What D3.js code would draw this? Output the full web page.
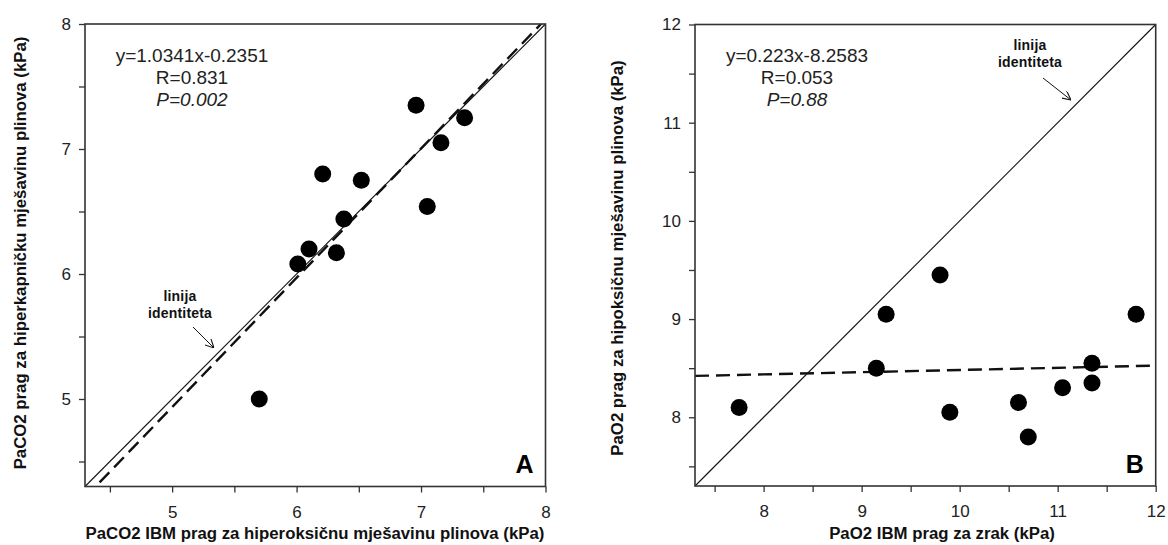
<!DOCTYPE html>
<html>
<head>
<meta charset="utf-8">
<script src="https://cdn.jsdelivr.net/npm/d3@7"></script>
<style>
  html, body { margin: 0; padding: 0; background: #fff; }
  svg { display: block; font-family: "Liberation Sans", Arial, sans-serif; }
</style>
</head>
<body>
<svg id="chart" width="1168" height="545"></svg>
<script>
// ---------- data ----------
// Panel A
const aX = [6.96, 7.35, 7.16, 7.05, 6.21, 6.52, 6.38, 6.10, 6.32, 6.01, 5.70];
const aY = [7.35, 7.25, 7.05, 6.54, 6.80, 6.75, 6.44, 6.20, 6.17, 6.08, 5.00];
const aDomain = [4.3, 8];
const aMajorTicks = [5, 6, 7, 8];
const aMinorTicks = [4.5, 5.5, 6.5, 7.5];
const aReg = [1.0341, -0.2351];           // slope, intercept
const aText = ["y=1.0341x-0.2351", "R=0.831", "P=0.002"];
const aXTitle = "PaCO2 IBM prag za hiperoksičnu mješavinu plinova (kPa)";
const aYTitle = "PaCO2 prag za hiperkapničku mješavinu plinova (kPa)";

// Panel B
const bX = [7.75, 9.15, 9.25, 9.80, 9.90, 10.60, 10.70, 11.05, 11.35, 11.35, 11.80];
const bY = [8.10, 8.50, 9.05, 9.45, 8.05, 8.15, 7.80, 8.30, 8.55, 8.35, 9.05];
const bDomain = [7.3, 12];
const bMajorTicks = [8, 9, 10, 11, 12];
const bMinorTicks = [7.5, 8.5, 9.5, 10.5, 11.5];
const bReg = [0.0223, 8.2583];            // drawn line, slope, intercept
const bText = ["y=0.223x-8.2583", "R=0.053", "P=0.88"];
const bXTitle = "PaO2 IBM prag za zrak (kPa)";
const bYTitle = "PaO2 prag za hipoksičnu mješavinu plinova (kPa)";

const annot = ["linija", "identiteta"];

// ---------- drawing ----------
const svg = d3.select("#chart");

const defs = svg.append("defs");
defs.append("marker")
  .attr("id", "arrow")
  .attr("viewBox", "0 0 10 10")
  .attr("refX", 10).attr("refY", 5)
  .attr("markerWidth", 9).attr("markerHeight", 9)
  .attr("markerUnits", "userSpaceOnUse")
  .attr("orient", "auto")
  .append("path")
  .attr("d", "M0,0 L10,5 L0,10")
  .attr("fill", "none")
  .attr("stroke", "#111")
  .attr("stroke-width", 1.2);

function panel(cfg) {
  const { id, left, right, top, bottom, domain, xs, ys, major, minor, reg, texts,
          xTitle, yTitle, letter, eqX, annotPos, arrow, xTitleX, yTitleX, yTitleY } = cfg;
  const x = d3.scaleLinear().domain(domain).range([left, right]);
  const y = d3.scaleLinear().domain(domain).range([bottom, top]);
  const g = svg.append("g");

  defs.append("clipPath").attr("id", "clip" + id)
    .append("rect").attr("x", left).attr("y", top)
    .attr("width", right - left).attr("height", bottom - top);

  const allTicks = major.concat(minor).sort((p, q) => p - q);
  const fmt = d => (major.includes(d) ? d3.format("d")(d) : "");

  const xAxis = g.append("g")
    .attr("transform", `translate(0,${bottom})`)
    .call(d3.axisBottom(x).tickValues(allTicks).tickFormat(fmt).tickSize(6).tickPadding(13));
  const yAxis = g.append("g")
    .attr("transform", `translate(${left},0)`)
    .call(d3.axisLeft(y).tickValues(allTicks).tickFormat(fmt).tickSize(6).tickPadding(8));
  [xAxis, yAxis].forEach(ax => {
    ax.select(".domain").remove();
    ax.selectAll("line").attr("stroke", "#333").attr("stroke-width", 1.3);
    ax.selectAll("text").attr("font-size", 17).attr("fill", "#222")
      .attr("font-family", "'Liberation Sans', Arial, sans-serif");
  });

  // identity line
  g.append("line")
    .attr("x1", x(domain[0])).attr("y1", y(domain[0]))
    .attr("x2", x(domain[1])).attr("y2", y(domain[1]))
    .attr("stroke", "#111").attr("stroke-width", 1.1);

  // regression line (dashed)
  const line = d3.line().x(d => x(d)).y(d => y(reg[0] * d + reg[1]));
  g.append("path")
    .attr("clip-path", `url(#clip${id})`)
    .attr("d", line(domain))
    .attr("fill", "none")
    .attr("stroke", "#111").attr("stroke-width", 2.4)
    .attr("stroke-dasharray", "14,7");

  // points
  g.append("g").selectAll("circle")
    .data(xs.map((v, i) => [v, ys[i]]))
    .join("circle")
    .attr("cx", d => x(d[0])).attr("cy", d => y(d[1]))
    .attr("r", 8.5).attr("fill", "#000");

  // frame
  g.append("rect")
    .attr("x", left).attr("y", top)
    .attr("width", right - left).attr("height", bottom - top)
    .attr("fill", "none").attr("stroke", "#333").attr("stroke-width", 1.6);

  // equation text
  [62, 83.5, 106].forEach((by, i) => {
    g.append("text")
      .attr("x", eqX).attr("y", by)
      .attr("text-anchor", "middle")
      .attr("font-size", 19).attr("fill", "#222")
      .attr("font-style", i === 2 ? "italic" : "normal")
      .text(texts[i]);
  });

  // annotation
  annot.forEach((t, i) => {
    g.append("text")
      .attr("x", annotPos[0]).attr("y", annotPos[1] + i * 16.5)
      .attr("text-anchor", "middle")
      .attr("font-size", 14).attr("font-weight", "bold")
      .attr("letter-spacing", 0.2)
      .attr("fill", "#111")
      .text(t);
  });
  g.append("line")
    .attr("x1", arrow[0]).attr("y1", arrow[1])
    .attr("x2", arrow[2]).attr("y2", arrow[3])
    .attr("stroke", "#111").attr("stroke-width", 1)
    .attr("marker-end", "url(#arrow)");

  // panel letter
  g.append("text")
    .attr("x", right - 21).attr("y", bottom - 13.5)
    .attr("text-anchor", "middle")
    .attr("font-size", 25).attr("font-weight", "bold").attr("fill", "#000")
    .text(letter);

  // axis titles
  g.append("text")
    .attr("x", xTitleX).attr("y", 539)
    .attr("text-anchor", "middle")
    .attr("font-size", 16.8).attr("font-weight", "bold").attr("fill", "#111")
    .text(xTitle);
  g.append("text")
    .attr("transform", `translate(${yTitleX},${yTitleY}) rotate(-90)`)
    .attr("text-anchor", "middle")
    .attr("font-size", 16.8).attr("font-weight", "bold").attr("fill", "#111")
    .text(yTitle);
}

panel({
  id: "A", left: 85, right: 545.5, top: 24, bottom: 486.5,
  domain: aDomain, xs: aX, ys: aY, major: aMajorTicks, minor: aMinorTicks,
  reg: aReg, texts: aText, xTitle: aXTitle, yTitle: aYTitle, letter: "A",
  eqX: 192, annotPos: [180, 301], arrow: [193, 327, 214, 348],
  xTitleX: 315, yTitleX: 26, yTitleY: 253
});

panel({
  id: "B", left: 695, right: 1155.7, top: 24.5, bottom: 486,
  domain: bDomain, xs: bX, ys: bY, major: bMajorTicks, minor: bMinorTicks,
  reg: bReg, texts: bText, xTitle: bXTitle, yTitle: bYTitle, letter: "B",
  eqX: 797, annotPos: [1030, 50], arrow: [1043, 78, 1071, 100],
  xTitleX: 942, yTitleX: 623, yTitleY: 258
});
</script>
</body>
</html>
